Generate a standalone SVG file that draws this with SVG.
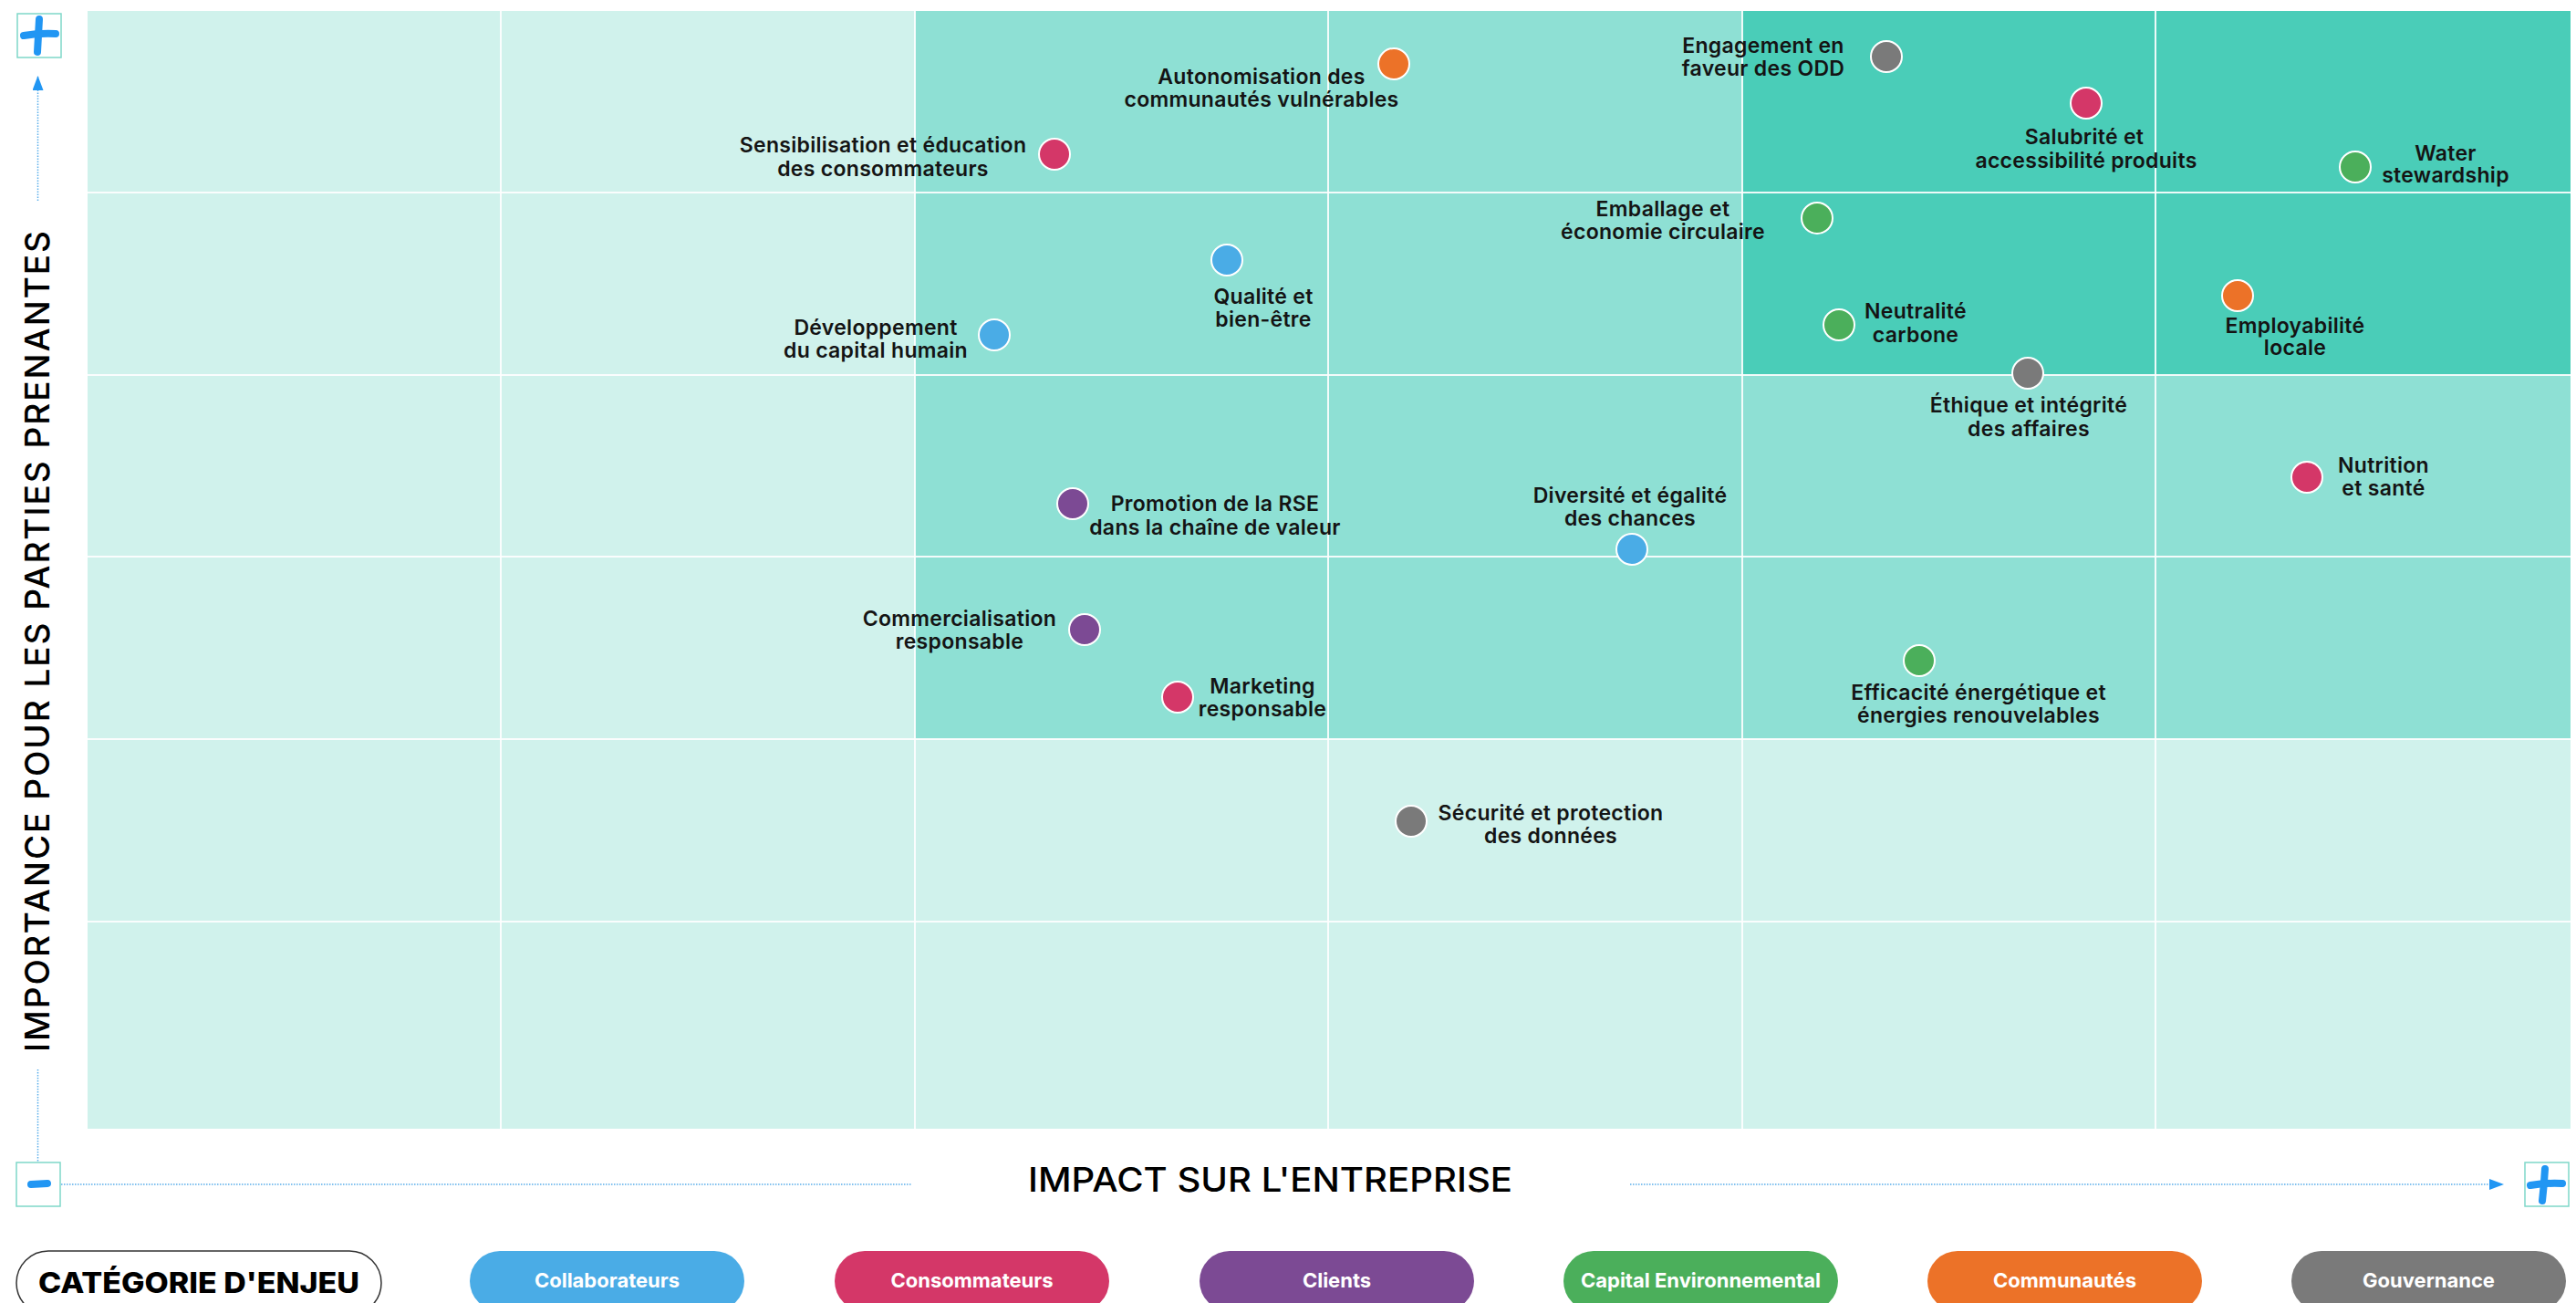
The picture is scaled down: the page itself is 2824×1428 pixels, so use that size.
<svg xmlns="http://www.w3.org/2000/svg" width="2824" height="1428" viewBox="0 0 2824 1428">
  <style>
    .lbl { font-family: Inter, "Open Sans", "DejaVu Sans", sans-serif; font-weight: 600; font-size: 23px; letter-spacing: 0.3px; fill: #141414; text-anchor: middle; }
    .dot { stroke: #ffffff; stroke-width: 2; }
    .grid { stroke: #ffffff; stroke-width: 2; opacity: 0.9; }
    .axis { stroke: #5AAEEA; stroke-width: 1.5; stroke-dasharray: 1.5 1.5; fill: none; }
    .mark { stroke: #2196F3; stroke-width: 8; stroke-linecap: round; fill: none; }
    .markbox { fill: #ffffff; stroke: #7FD8C9; stroke-width: 1.5; }
    .title { font-family: Inter, "Open Sans", "DejaVu Sans", sans-serif; font-weight: 500; font-size: 37px; fill: #000; text-anchor: middle; }
    .pill-t { font-family: Inter, "Open Sans", "DejaVu Sans", sans-serif; font-weight: 700; font-size: 22px; fill: #ffffff; text-anchor: middle; }
    .collab { fill: #4AACE6; }
    .conso { fill: #D43768; }
    .client { fill: #7C4A94; }
    .env { fill: #4BAF5B; }
    .comm { fill: #EC7228; }
    .gouv { fill: #7A7A7A; }
  </style>
  <defs>
    <marker id="arrow" viewBox="0 0 16 12" refX="15" refY="6" markerWidth="16" markerHeight="12" markerUnits="userSpaceOnUse" orient="auto">
      <path d="M0,0 L16,6 L0,12 Z" fill="#2196F3"/>
    </marker>
  </defs>

  <rect width="2824" height="1428" fill="#ffffff"/>

  <!-- plot background -->
  <g id="plot">
    <rect x="96" y="12" width="2722" height="1225" fill="#D0F2EC"/>
    <rect x="1003" y="12" width="1815" height="798" fill="#8EE0D4"/>
    <rect x="1910" y="12" width="908" height="399" fill="#4ACDB8"/>
    <g id="grid">
      <line class="grid" x1="549" y1="12" x2="549" y2="1237"/>
      <line class="grid" x1="1003" y1="12" x2="1003" y2="1237"/>
      <line class="grid" x1="1456" y1="12" x2="1456" y2="1237"/>
      <line class="grid" x1="1910" y1="12" x2="1910" y2="1237"/>
      <line class="grid" x1="2363" y1="12" x2="2363" y2="1237"/>
      <line class="grid" x1="96" y1="211" x2="2818" y2="211"/>
      <line class="grid" x1="96" y1="411" x2="2818" y2="411"/>
      <line class="grid" x1="96" y1="610" x2="2818" y2="610"/>
      <line class="grid" x1="96" y1="810" x2="2818" y2="810"/>
      <line class="grid" x1="96" y1="1010" x2="2818" y2="1010"/>
    </g>
  </g>

  <!-- axes (connectors) -->
  <g id="connectors">
    <line class="axis" x1="41.5" y1="220" x2="41.5" y2="84" marker-end="url(#arrow)"/>
    <line class="axis" x1="41.5" y1="1172" x2="41.5" y2="1274"/>
    <line class="axis" x1="67" y1="1298" x2="1000" y2="1298"/>
    <line class="axis" x1="1787" y1="1298" x2="2744" y2="1298" marker-end="url(#arrow)"/>
  </g>

  <g id="axis-marks">
    <g id="plus-top">
      <rect class="markbox" x="19" y="15" width="48" height="48"/>
      <path class="mark" d="M43,21 Q42,39 41,57"/>
      <path class="mark" d="M26,39 Q44,36 61,37"/>
    </g>
    <g id="minus-origin">
      <rect class="markbox" x="18" y="1274" width="48" height="48"/>
      <path class="mark" d="M34,1298 L52,1297"/>
    </g>
    <g id="plus-right">
      <rect class="markbox" x="2768" y="1274" width="48" height="48"/>
      <path class="mark" d="M2790,1281 Q2789,1299 2787,1316"/>
      <path class="mark" d="M2774,1299 Q2792,1296 2809,1297"/>
    </g>
  </g>

  <text class="title" x="1392.5" y="1306" textLength="531" lengthAdjust="spacingAndGlyphs">IMPACT SUR L'ENTREPRISE</text>
  <text class="title" transform="translate(54,703) rotate(-90)" x="0" y="0" textLength="900" lengthAdjust="spacing">IMPORTANCE POUR LES PARTIES PRENANTES</text>

  <!-- nodes -->
  <g id="n-autonomisation">
    <circle class="dot comm" cx="1528" cy="70" r="17"/>
    <text class="lbl" x="1383" y="92">Autonomisation des</text>
    <text class="lbl" x="1383" y="117">communautés vulnérables</text>
  </g>
  <g id="n-sensibilisation">
    <circle class="dot conso" cx="1156" cy="169" r="17"/>
    <text class="lbl" x="968" y="167">Sensibilisation et éducation</text>
    <text class="lbl" x="968" y="193">des consommateurs</text>
  </g>
  <g id="n-engagement">
    <circle class="dot gouv" cx="2068" cy="62" r="17"/>
    <text class="lbl" x="1933" y="58">Engagement en</text>
    <text class="lbl" x="1933" y="83">faveur des ODD</text>
  </g>
  <g id="n-salubrite">
    <circle class="dot conso" cx="2287" cy="113" r="17"/>
    <text class="lbl" x="2285" y="158">Salubrité et</text>
    <text class="lbl" x="2287" y="184">accessibilité produits</text>
  </g>
  <g id="n-water">
    <circle class="dot env" cx="2582" cy="183" r="17"/>
    <text class="lbl" x="2681" y="176">Water</text>
    <text class="lbl" x="2681" y="200">stewardship</text>
  </g>
  <g id="n-emballage">
    <circle class="dot env" cx="1992" cy="239" r="17"/>
    <text class="lbl" x="1823" y="237">Emballage et</text>
    <text class="lbl" x="1823" y="262">économie circulaire</text>
  </g>
  <g id="n-qualite">
    <circle class="dot collab" cx="1345" cy="285" r="17"/>
    <text class="lbl" x="1385" y="333">Qualité et</text>
    <text class="lbl" x="1385" y="358">bien-être</text>
  </g>
  <g id="n-developpement">
    <circle class="dot collab" cx="1090" cy="367" r="17"/>
    <text class="lbl" x="960" y="367">Développement</text>
    <text class="lbl" x="960" y="392">du capital humain</text>
  </g>
  <g id="n-neutralite">
    <circle class="dot env" cx="2016" cy="356" r="17"/>
    <text class="lbl" x="2100" y="349">Neutralité</text>
    <text class="lbl" x="2100" y="375">carbone</text>
  </g>
  <g id="n-employabilite">
    <circle class="dot comm" cx="2453" cy="324" r="17"/>
    <text class="lbl" x="2516" y="365">Employabilité</text>
    <text class="lbl" x="2516" y="389">locale</text>
  </g>
  <g id="n-ethique">
    <circle class="dot gouv" cx="2223" cy="409" r="17"/>
    <text class="lbl" x="2224" y="452">Éthique et intégrité</text>
    <text class="lbl" x="2224" y="478">des affaires</text>
  </g>
  <g id="n-nutrition">
    <circle class="dot conso" cx="2529" cy="523" r="17"/>
    <text class="lbl" x="2613" y="518">Nutrition</text>
    <text class="lbl" x="2613" y="543">et santé</text>
  </g>
  <g id="n-promotion">
    <circle class="dot client" cx="1176" cy="552" r="17"/>
    <text class="lbl" x="1332" y="560">Promotion de la RSE</text>
    <text class="lbl" x="1332" y="586">dans la chaîne de valeur</text>
  </g>
  <g id="n-diversite">
    <circle class="dot collab" cx="1789" cy="602" r="17"/>
    <text class="lbl" x="1787" y="551">Diversité et égalité</text>
    <text class="lbl" x="1787" y="576">des chances</text>
  </g>
  <g id="n-commercialisation">
    <circle class="dot client" cx="1189" cy="690" r="17"/>
    <text class="lbl" x="1052" y="686">Commercialisation</text>
    <text class="lbl" x="1052" y="711">responsable</text>
  </g>
  <g id="n-marketing">
    <circle class="dot conso" cx="1291" cy="764" r="17"/>
    <text class="lbl" x="1384" y="760">Marketing</text>
    <text class="lbl" x="1384" y="785">responsable</text>
  </g>
  <g id="n-efficacite">
    <circle class="dot env" cx="2104" cy="724" r="17"/>
    <text class="lbl" x="2169" y="767">Efficacité énergétique et</text>
    <text class="lbl" x="2169" y="792">énergies renouvelables</text>
  </g>
  <g id="n-securite">
    <circle class="dot gouv" cx="1547" cy="900" r="17"/>
    <text class="lbl" x="1700" y="899">Sécurité et protection</text>
    <text class="lbl" x="1700" y="924">des données</text>
  </g>

  <!-- legend -->
  <g id="legend">
    <g id="legend-title">
      <rect x="18" y="1371" width="400" height="70" rx="35" fill="#ffffff" stroke="#333333" stroke-width="1.5"/>
      <text x="218" y="1417" text-anchor="middle" font-family="Inter, 'Open Sans', 'DejaVu Sans', sans-serif" font-weight="800" font-size="31" fill="#000000" textLength="352" lengthAdjust="spacingAndGlyphs">CATÉGORIE D'ENJEU</text>
    </g>
    <g id="legend-collaborateurs">
      <rect class="collab" x="515" y="1371" width="301" height="66" rx="33"/>
      <text class="pill-t" x="665.5" y="1411">Collaborateurs</text>
    </g>
    <g id="legend-consommateurs">
      <rect class="conso" x="915" y="1371" width="301" height="66" rx="33"/>
      <text class="pill-t" x="1065.5" y="1411">Consommateurs</text>
    </g>
    <g id="legend-clients">
      <rect class="client" x="1315" y="1371" width="301" height="66" rx="33"/>
      <text class="pill-t" x="1465.5" y="1411">Clients</text>
    </g>
    <g id="legend-environnement">
      <rect class="env" x="1714" y="1371" width="301" height="66" rx="33"/>
      <text class="pill-t" x="1864.5" y="1411">Capital Environnemental</text>
    </g>
    <g id="legend-communautes">
      <rect class="comm" x="2113" y="1371" width="301" height="66" rx="33"/>
      <text class="pill-t" x="2263.5" y="1411">Communautés</text>
    </g>
    <g id="legend-gouvernance">
      <rect class="gouv" x="2512" y="1371" width="301" height="66" rx="33"/>
      <text class="pill-t" x="2662.5" y="1411">Gouvernance</text>
    </g>
  </g>
</svg>
